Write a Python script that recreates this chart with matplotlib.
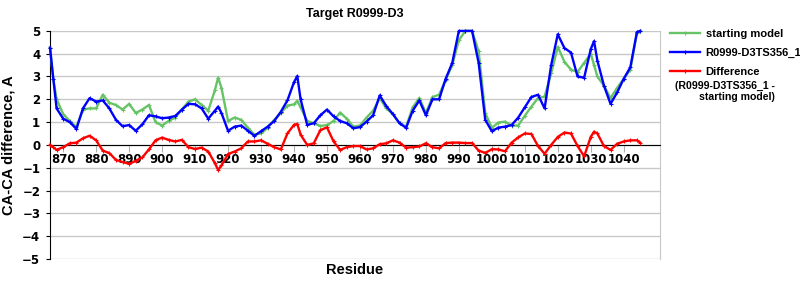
import matplotlib
matplotlib.use("Agg")
import matplotlib.pyplot as plt
import numpy as np

# --------------------------------------------------------------------------- #
# data                                               #
# --------------------------------------------------------------------------- #

residues = [866, 867, 868, 870, 872, 874, 876, 878, 880, 882, 884, 886, 888,
            890, 892, 894, 896, 898, 900, 902, 904, 906, 908, 910, 912, 914,
            916, 917, 918, 920, 922, 924, 926, 928, 930, 932, 934, 936, 938,
            940, 941, 942, 944, 946, 948, 950, 952, 954, 956, 958, 960, 962,
            964, 966, 968, 970, 972, 974, 976, 978, 980, 982, 984, 986, 988,
            990, 992, 994, 996, 998, 1000, 1002, 1004, 1006, 1008, 1010, 1012,
            1014, 1016, 1018, 1020, 1022, 1024, 1026, 1028, 1030, 1031, 1032,
            1034, 1036, 1038, 1040, 1042, 1044, 1045]

starting_model = [4.25, 2.9, 2.0, 1.35, 1.05, 0.78, 1.55, 1.6, 1.6, 2.2, 1.85,
                  1.75, 1.55, 1.8, 1.4, 1.55, 1.75, 1.0, 0.85, 1.05, 1.2, 1.55,
                  1.9, 2.0, 1.75, 1.5, 2.4, 2.95, 2.5, 1.05, 1.2, 1.1, 0.75,
                  0.45, 0.5, 0.75, 1.1, 1.4, 1.72, 1.78, 1.93, 1.65, 1.05,
                  0.95, 0.83, 0.87, 1.05, 1.42, 1.15, 0.8, 0.85, 1.2, 1.5,
                  2.05, 1.6, 1.35, 0.95, 0.8, 1.65, 2.05, 1.4, 2.1, 2.2, 2.85,
                  3.5, 4.6, 5.0, 5.0, 4.1, 1.4, 0.75, 0.98, 1.02, 0.85, 0.85,
                  1.28, 1.68, 2.05, 2.12, 3.14, 4.3, 3.65, 3.3, 3.2, 3.6, 4.0,
                  3.5, 3.0, 2.6, 2.05, 2.5, 2.9, 3.3, 4.9, 5.0]

model = [4.27, 2.9, 1.6, 1.15, 1.0, 0.7, 1.6, 2.05, 1.9, 1.95, 1.6, 1.1, 0.82,
         0.87, 0.62, 0.9, 1.3, 1.25, 1.17, 1.2, 1.27, 1.55, 1.8, 1.78, 1.6,
         1.15, 1.5, 1.68, 1.4, 0.62, 0.8, 0.85, 0.62, 0.4, 0.6, 0.8, 1.05,
         1.45, 1.95, 2.75, 3.02, 2.0, 0.88, 0.95, 1.3, 1.55, 1.25, 1.05, 0.95,
         0.73, 0.78, 1.02, 1.3, 2.17, 1.7, 1.35, 0.95, 0.75, 1.5, 1.95, 1.3,
         2.0, 2.0, 2.9, 3.6, 5.0, 5.0, 5.0, 3.6, 1.1, 0.6, 0.76, 0.8, 0.87,
         1.2, 1.65, 2.1, 2.2, 1.6, 3.5, 4.85, 4.25, 4.05, 3.0, 2.95, 4.2,
         4.55, 3.7, 2.6, 1.8, 2.3, 2.9, 3.4, 4.95, 5.0]

difference = [0.0, -0.1, -0.22, -0.1, 0.07, 0.1, 0.29, 0.4, 0.2, -0.25, -0.36,
              -0.66, -0.75, -0.83, -0.7, -0.55, -0.2, 0.2, 0.32, 0.22, 0.15,
              0.22, -0.1, -0.18, -0.12, -0.29, -0.8, -1.1, -0.9, -0.4, -0.29,
              -0.15, 0.15, 0.15, 0.2, 0.05, -0.1, -0.2, 0.5, 0.88, 0.92, 0.45,
              0.0, 0.07, 0.65, 0.77, 0.15, -0.22, -0.1, -0.05, -0.05, -0.2,
              -0.15, 0.03, 0.07, 0.2, 0.1, -0.12, -0.1, -0.07, 0.07, -0.1,
              -0.15, 0.08, 0.1, 0.1, 0.08, 0.08, -0.25, -0.35, -0.19, -0.2,
              -0.28, 0.1, 0.33, 0.5, 0.48, -0.05, -0.39, 0.0, 0.35, 0.54, 0.5,
              -0.05, -0.5, 0.35, 0.58, 0.5, -0.05, -0.22, 0.05, 0.15, 0.2, 0.2,
              0.1]

x_ticks = list(range(870, 1041, 10))
y_ticks = list(range(-5, 6))

series = [
    ("starting model",  starting_model, "#66c466"),
    ("R0999-D3TS356_1", model,          "#0000ff"),
    ("Difference",      difference,     "#ff0000"),
]

# --------------------------------------------------------------------------- #
# plot                                                                        #
# --------------------------------------------------------------------------- #

fig = plt.figure(figsize=(8, 3), dpi=100)
ax = fig.add_axes([0.0625, 0.137, 0.7625, 0.76])

for label, values, color in series:
    ax.plot(residues, values, color=color, lw=1.7, marker="+", ms=3, mew=0.8,
            label=label, clip_on=False, zorder=3)

ax.set_xlim(866, 1051)
ax.set_ylim(-5, 5)
ax.set_yticks(y_ticks)
ax.set_yticklabels([str(v).replace("-", "\u2212") for v in y_ticks])
ax.set_xticks(x_ticks)

ax.grid(axis="y", color="#c8c8c8", lw=1)
ax.set_axisbelow(True)

ax.spines["bottom"].set_position(("data", 0))
ax.spines["bottom"].set_color("black")
ax.spines["top"].set_visible(False)
ax.spines["right"].set_color("#c8c8c8")
ax.spines["left"].set_color("black")

ax.tick_params(axis="x", length=5, color="#b0b0b0", pad=1, labelsize=8.5)
ax.tick_params(axis="y", length=3, pad=4, labelsize=8.5)
for lab in ax.get_xticklabels() + ax.get_yticklabels():
    lab.set_fontweight("bold")

ax.set_title("Target R0999-D3", fontsize=9, fontweight="bold",
             family="Liberation Sans", pad=10)
ax.set_ylabel("CA-CA difference, A", fontsize=10.5, fontweight="bold",
              family="Liberation Sans", labelpad=5)
fig.text(0.443, 0.085, "Residue", fontsize=10.5, fontweight="bold",
         family="Liberation Sans", ha="center")

leg = ax.legend(loc="upper left", bbox_to_anchor=(670 / 800, 1 - 29 / 300),
                bbox_transform=fig.transFigure, frameon=False,
                borderaxespad=0, borderpad=0,
                handlelength=2.7, handletextpad=0.5, labelspacing=0.8,
                prop={"weight": "bold", "size": 8, "family": "Liberation Sans"})
fig.text(0.968, 1 - 81 / 300, "(R0999-D3TS356_1 -\nstarting model)", fontsize=7.6,
         fontweight="bold", family="Liberation Sans", ha="right", va="top",
         multialignment="right", linespacing=1.1)

plt.savefig("out.png", dpi=100)
plt.close()
